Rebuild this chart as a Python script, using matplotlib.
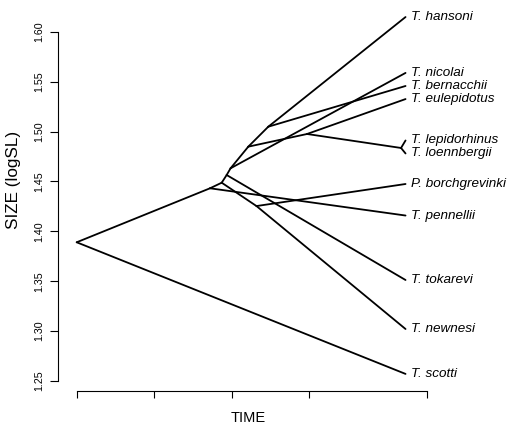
import matplotlib
matplotlib.use("Agg")
import matplotlib.pyplot as plt

# ---- data ----
tip_names = ["T. hansoni", "T. nicolai", "T. bernacchii", "T. eulepidotus",
             "T. lepidorhinus", "T. loennbergii", "P. borchgrevinki",
             "T. pennellii", "T. tokarevi", "T. newnesi", "T. scotti"]
tip_values = [1.6147, 1.5587, 1.5456, 1.5325, 1.4910, 1.4780, 1.4474,
              1.4158, 1.3512, 1.3021, 1.2571]
tip_time = 4.243

node_names = ["R", "B", "C", "D", "E", "F", "H", "I", "G", "J"]
node_times = [0.0, 1.720, 1.871, 2.320, 1.935, 1.985, 2.214, 2.472, 2.972, 4.185]
node_values = [1.389, 1.4431, 1.4487, 1.4253, 1.4564, 1.4631, 1.4848, 1.5048,
               1.4975, 1.4835]

edges = [("R", "T. scotti"), ("R", "B"), ("B", "T. pennellii"), ("B", "C"),
         ("C", "D"), ("C", "E"), ("D", "T. newnesi"), ("D", "P. borchgrevinki"),
         ("E", "T. tokarevi"), ("E", "F"), ("F", "T. nicolai"), ("F", "H"),
         ("H", "G"), ("H", "I"), ("I", "T. hansoni"), ("I", "T. bernacchii"),
         ("G", "T. eulepidotus"), ("G", "J"), ("J", "T. lepidorhinus"),
         ("J", "T. loennbergii")]

y_ticks = [1.25, 1.30, 1.35, 1.40, 1.45, 1.50, 1.55, 1.60]
x_ticks = [0, 1, 2, 3, 4.516]

# ---- plot ----
W, H = 514, 426
fig = plt.figure(figsize=(W / 100, H / 100), dpi=100)
plt.rcParams['font.family'] = ['Liberation Sans', 'DejaVu Sans']

# pixel mapping: x_px = 76.7 + t*77.5 ; y_px = 31.7 + (1.60 - v)*998
px_left, px_right, px_top, px_bot = 62, 512, 8, 385
xlim = ((px_left - 76.7) / 77.5, (px_right - 76.7) / 77.5)
ylim = (1.60 - (px_bot - 31.7) / 998, 1.60 - (px_top - 31.7) / 998)
ax = fig.add_axes([px_left / W, 1 - px_bot / H, (px_right - px_left) / W,
                   (px_bot - px_top) / H])
ax.set_xlim(*xlim)
ax.set_ylim(*ylim)

pos = {}
for n, t, v in zip(node_names, node_times, node_values):
    pos[n] = (t, v)
for n, v in zip(tip_names, tip_values):
    pos[n] = (tip_time, v)

for p, c in edges:
    (x0, y0), (x1, y1) = pos[p], pos[c]
    ax.plot([x0, x1], [y0, y1], color="black", lw=1.3, solid_capstyle="round")

label_dx = 0.07
for n, v in zip(tip_names, tip_values):
    ax.text(tip_time + label_dx, v, n, fontsize=9.7, style="italic",
            ha="left", va="center")

for s in ["top", "right"]:
    ax.spines[s].set_visible(False)
ax.spines["left"].set_position(("outward", 2.7))
ax.spines["bottom"].set_position(("outward", 4.1))
ax.spines["left"].set_bounds(y_ticks[0], y_ticks[-1])
ax.spines["bottom"].set_bounds(x_ticks[0], x_ticks[-1])
for s in ["left", "bottom"]:
    ax.spines[s].set_linewidth(0.8)

ax.set_yticks(y_ticks)
ax.set_yticklabels([f"{v:.2f}" for v in y_ticks], rotation=90, va="center",
                   fontsize=7.7)
ax.tick_params(axis="y", length=6, width=0.8, pad=4)
ax.set_xticks(x_ticks)
ax.set_xticklabels([])
ax.tick_params(axis="x", length=4.8, width=0.8)

fig.text(13.5 / W, 1 - 180 / H, "SIZE (logSL)", rotation=90, fontsize=12.3,
         ha="center", va="center")
fig.text(248 / W, 1 - 418 / H, "TIME", fontsize=10.5, ha="center", va="center")

fig.savefig("out.png", dpi=100)
